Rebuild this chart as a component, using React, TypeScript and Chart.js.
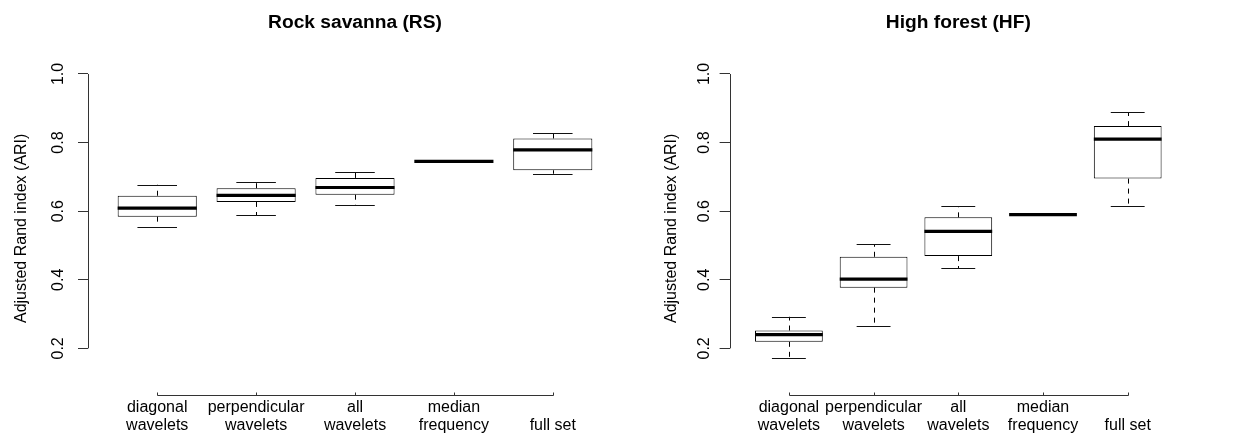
import React, { useEffect, useRef } from "react";
import { Chart, registerables } from "chart.js";

Chart.register(...registerables);

// ---------- data ----------
const categories: string[][] = [
  ["diagonal", "wavelets"],
  ["perpendicular", "wavelets"],
  ["all", "wavelets"],
  ["median", "frequency"],
  ["", "full set"],
];
const categoryPositions = [1, 2, 3, 4, 5];

const yTickValues = [0.2, 0.4, 0.6, 0.8, 1.0];
const yTickLabels = ["0.2", "0.4", "0.6", "0.8", "1.0"];
const yAxisTitle = "Adjusted Rand index (ARI)";

// Rock savanna (RS)
const rsTitle = "Rock savanna (RS)";
const rsMin = [0.555, 0.589, 0.618, 0.745, 0.709];
const rsQ1 = [0.584, 0.627, 0.648, 0.745, 0.719];
const rsMedian = [0.609, 0.646, 0.669, 0.745, 0.779];
const rsQ3 = [0.645, 0.667, 0.697, 0.745, 0.812];
const rsMax = [0.677, 0.686, 0.714, 0.745, 0.828];

// High forest (HF)
const hfTitle = "High forest (HF)";
const hfMin = [0.173, 0.266, 0.433, 0.59, 0.615];
const hfQ1 = [0.219, 0.377, 0.469, 0.59, 0.695];
const hfMedian = [0.24, 0.402, 0.541, 0.59, 0.81];
const hfQ3 = [0.252, 0.467, 0.582, 0.59, 0.848];
const hfMax = [0.292, 0.503, 0.615, 0.59, 0.889];

// ---------- styling ----------
const FONT = 'Arial, "Liberation Sans", Helvetica, sans-serif';
const AXIS_COLOR = "#333";

type Stats = { min: number[]; q1: number[]; med: number[]; q3: number[]; max: number[] };

type Layout = {
  canvasWidth: number;
  yAxisWidth: number;
  padRight: number;
  yTitlePad: number;
  yTickPad: number;
};

const crisp = (v: number) => Math.round(v) + 0.5;

function makeBoxPlugin(stats: Stats) {
  return {
    id: "boxWhiskers",
    afterDatasetsDraw(chart: any) {
      const { ctx, scales, chartArea } = chart;
      const xs = scales.x;
      const ys = scales.y;
      const meta = chart.getDatasetMeta(0);
      ctx.save();
      categoryPositions.forEach((pos, i) => {
        const cx = xs.getPixelForValue(pos);
        const bar = meta.data[i];
        const boxW = bar && bar.width ? bar.width : 0;
        const capHalf = boxW / 4;
        const yMin = ys.getPixelForValue(stats.min[i]);
        const yQ1 = ys.getPixelForValue(stats.q1[i]);
        const yQ3 = ys.getPixelForValue(stats.q3[i]);
        const yMax = ys.getPixelForValue(stats.max[i]);
        const yMed = ys.getPixelForValue(stats.med[i]);
        const lx = crisp(cx);

        // dashed whiskers
        ctx.strokeStyle = "#000";
        ctx.lineWidth = 1;
        ctx.setLineDash([5, 5]);
        if (Math.abs(yMax - yQ3) > 0.5) {
          ctx.beginPath();
          ctx.moveTo(lx, yQ3);
          ctx.lineTo(lx, yMax);
          ctx.stroke();
        }
        if (Math.abs(yMin - yQ1) > 0.5) {
          ctx.beginPath();
          ctx.moveTo(lx, yQ1);
          ctx.lineTo(lx, yMin);
          ctx.stroke();
        }
        ctx.setLineDash([]);
        // caps
        ctx.strokeStyle = "#111";
        [yMax, yMin].forEach((yy) => {
          ctx.beginPath();
          ctx.moveTo(cx - capHalf, crisp(yy));
          ctx.lineTo(cx + capHalf, crisp(yy));
          ctx.stroke();
        });
        // median
        ctx.strokeStyle = "#000";
        ctx.lineWidth = 3.2;
        ctx.lineCap = "butt";
        ctx.beginPath();
        ctx.moveTo(cx - boxW / 2, yMed);
        ctx.lineTo(cx + boxW / 2, yMed);
        ctx.stroke();
      });

      // R-style axes lines (spanning first to last tick)
      ctx.strokeStyle = AXIS_COLOR;
      ctx.lineWidth = 1;
      const ax = crisp(chartArea.left);
      ctx.beginPath();
      ctx.moveTo(ax, ys.getPixelForValue(yTickValues[0]));
      ctx.lineTo(ax, ys.getPixelForValue(yTickValues[yTickValues.length - 1]));
      ctx.stroke();

      const by = crisp(chartArea.bottom);
      const x0 = xs.getPixelForValue(categoryPositions[0]);
      const x1 = xs.getPixelForValue(categoryPositions[categoryPositions.length - 1]);
      ctx.beginPath();
      ctx.moveTo(crisp(x0), by);
      ctx.lineTo(crisp(x1), by);
      ctx.stroke();
      categoryPositions.forEach((pos) => {
        const tx = crisp(xs.getPixelForValue(pos));
        ctx.beginPath();
        ctx.moveTo(tx, by);
        ctx.lineTo(tx, by - 3);
        ctx.stroke();
      });
      ctx.restore();
    },
  };
}

function Panel({ title, stats, layout }: { title: string; stats: Stats; layout: Layout }) {
  const ref = useRef<HTMLCanvasElement | null>(null);

  useEffect(() => {
    if (!ref.current) return;
    const chart = new Chart(ref.current, {
      type: "bar",
      data: {
        datasets: [
          {
            data: categoryPositions.map((x, i) => ({ x, y: [stats.q1[i], stats.q3[i]] })) as any,
            backgroundColor: "#fff",
            borderColor: "#000",
            borderWidth: 1,
            borderSkipped: false,
            inflateAmount: 0,
            barPercentage: 0.8,
            categoryPercentage: 1,
          } as any,
        ],
      },
      options: {
        animation: false,
        responsive: false,
        events: [],
        layout: { padding: { left: 0, right: layout.padRight, top: 0, bottom: 0 } },
        plugins: {
          legend: { display: false },
          tooltip: { enabled: false },
          title: {
            display: true,
            text: title,
            fullSize: false,
            color: "#000",
            font: { family: FONT, size: 19.2, weight: "bold", lineHeight: 1.2 },
            padding: { top: 11.2, bottom: 27.4 },
          },
        },
        scales: {
          x: {
            type: "linear",
            min: 0.3,
            max: 5.7,
            offset: false,
            grid: { display: false, drawTicks: false, offset: false },
            border: { display: false },
            afterBuildTicks: (scale: any) => {
              scale.ticks = categoryPositions.map((v) => ({ value: v }));
            },
            afterFit: (scale: any) => {
              scale.height = 40;
              scale.paddingLeft = 0;
              scale.paddingRight = 0;
            },
            ticks: {
              autoSkip: false,
              maxRotation: 0,
              minRotation: 0,
              padding: 4.5,
              color: "#000",
              font: { family: FONT, size: 16, lineHeight: 1.07 },
              callback: (_v: any, i: number) => categories[i],
            },
          },
          y: {
            type: "linear",
            min: 0.064,
            max: 1.036,
            grid: {
              drawOnChartArea: false,
              drawTicks: true,
              tickLength: 10,
              color: AXIS_COLOR,
              lineWidth: 1,
            },
            border: { display: false },
            afterBuildTicks: (scale: any) => {
              scale.ticks = yTickValues.map((v) => ({ value: v }));
            },
            afterFit: (scale: any) => {
              scale.width = layout.yAxisWidth;
              scale.paddingTop = 0;
              scale.paddingBottom = 0;
            },
            ticks: {
              minRotation: 90,
              maxRotation: 90,
              crossAlign: "center",
              padding: layout.yTickPad,
              color: "#000",
              font: { family: FONT, size: 16 },
              callback: (_v: any, i: number) => yTickLabels[i],
            },
            title: {
              display: true,
              text: yAxisTitle,
              color: "#000",
              font: { family: FONT, size: 16, lineHeight: 1.2 },
              padding: { top: layout.yTitlePad, bottom: 0 },
            },
          },
        },
      } as any,
      plugins: [makeBoxPlugin(stats)],
    });
    return () => chart.destroy();
  }, []);

  return (
    <canvas
      ref={ref}
      width={layout.canvasWidth}
      height={435}
      style={{ display: "block", width: layout.canvasWidth, height: 435 }}
    />
  );
}

export default function App() {
  return (
    <div
      style={{
        position: "absolute",
        left: 0,
        top: 0,
        width: 1252,
        height: 435,
        display: "flex",
        background: "#fff",
      }}
    >
      <Panel
        title={rsTitle}
        stats={{ min: rsMin, q1: rsQ1, med: rsMedian, q3: rsQ3, max: rsMax }}
        layout={{ canvasWidth: 640, yAxisWidth: 88, padRight: 18, yTitlePad: 12, yTickPad: 8 }}
      />
      <Panel
        title={hfTitle}
        stats={{ min: hfMin, q1: hfQ1, med: hfMedian, q3: hfQ3, max: hfMax }}
        layout={{ canvasWidth: 612, yAxisWidth: 89.6, padRight: 65, yTitlePad: 22, yTickPad: 3.6 }}
      />
    </div>
  );
}
